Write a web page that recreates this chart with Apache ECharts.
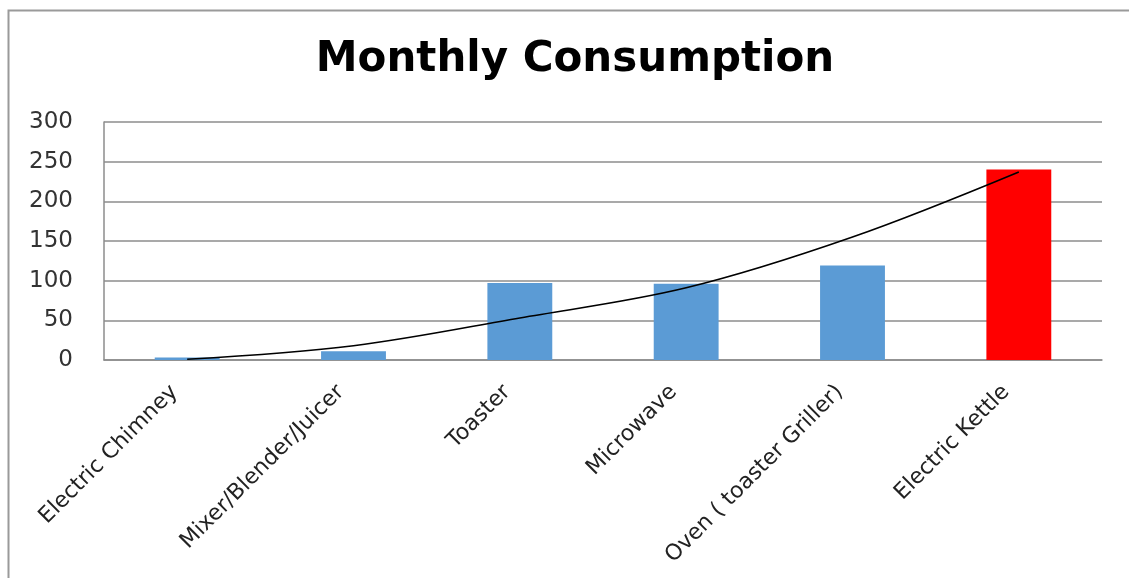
<!DOCTYPE html>
<html>
<head>
<meta charset="utf-8">
<script src="https://cdn.jsdelivr.net/npm/echarts@6/dist/echarts.min.js"></script>
<style>
html,body{margin:0;padding:0;background:#fff;}
#chart{width:1129px;height:578px;}
</style>
</head>
<body>
<div id="chart"></div>
<script>
const categories = ['Electric Chimney', 'Mixer/Blender/Juicer', 'Toaster', 'Microwave', 'Oven ( toaster Griller)', 'Electric Kettle'];
const consumption = [3, 11, 97, 96, 119, 240];
const trendValues = [1, 18, 53, 91, 155, 237];
const yTicks = [0, 50, 100, 150, 200, 250, 300];
const highlighted = 'Electric Kettle';

const chart = echarts.init(document.getElementById('chart'), null, {renderer: 'canvas'});
chart.setOption({
  animation: false,
  backgroundColor: '#ffffff',
  title: {
    text: 'Monthly Consumption',
    left: 570,
    textAlign: 'center',
    top: 34,
    textStyle: {fontFamily: 'DejaVu Sans', fontWeight: 'bold', fontSize: 42, color: '#000'}
  },
  graphic: [{
    type: 'rect',
    shape: {x: 8.5, y: 10.5, width: 1200, height: 700},
    style: {fill: 'none', stroke: '#9a9a9a', lineWidth: 2},
    silent: true
  }],
  grid: {left: 104, right: 27, top: 122, bottom: 218, containLabel: false},
  xAxis: {
    type: 'category',
    data: categories,
    axisLine: {show: true, lineStyle: {color: '#8c8c8c', width: 1.5}},
    axisTick: {show: false},
    axisLabel: {rotate: 45, margin: 16, padding: [0, 18, 0, 0], fontFamily: 'DejaVu Sans', fontSize: 22, color: '#222', interval: 0}
  },
  yAxis: {
    type: 'value',
    min: yTicks[0],
    max: yTicks[yTicks.length - 1],
    interval: yTicks[1] - yTicks[0],
    axisLine: {show: true, lineStyle: {color: '#8c8c8c', width: 1.5}},
    axisTick: {show: false},
    axisLabel: {margin: 31, fontFamily: 'DejaVu Sans', fontSize: 23, color: '#333'},
    splitLine: {show: true, lineStyle: {color: '#8c8c8c', width: 1.5}}
  },
  series: [{
    type: 'bar',
    data: consumption,
    barWidth: '39%',
    itemStyle: {
      color: function (p) { return categories[p.dataIndex] === highlighted ? '#ff0000' : '#5b9bd5'; }
    },
    z: 2
  }, {
    type: 'line',
    data: trendValues,
    smooth: 0.35,
    showSymbol: false,
    symbol: 'none',
    lineStyle: {color: '#000', width: 1.6},
    z: 3
  }]
});
</script>
</body>
</html>
